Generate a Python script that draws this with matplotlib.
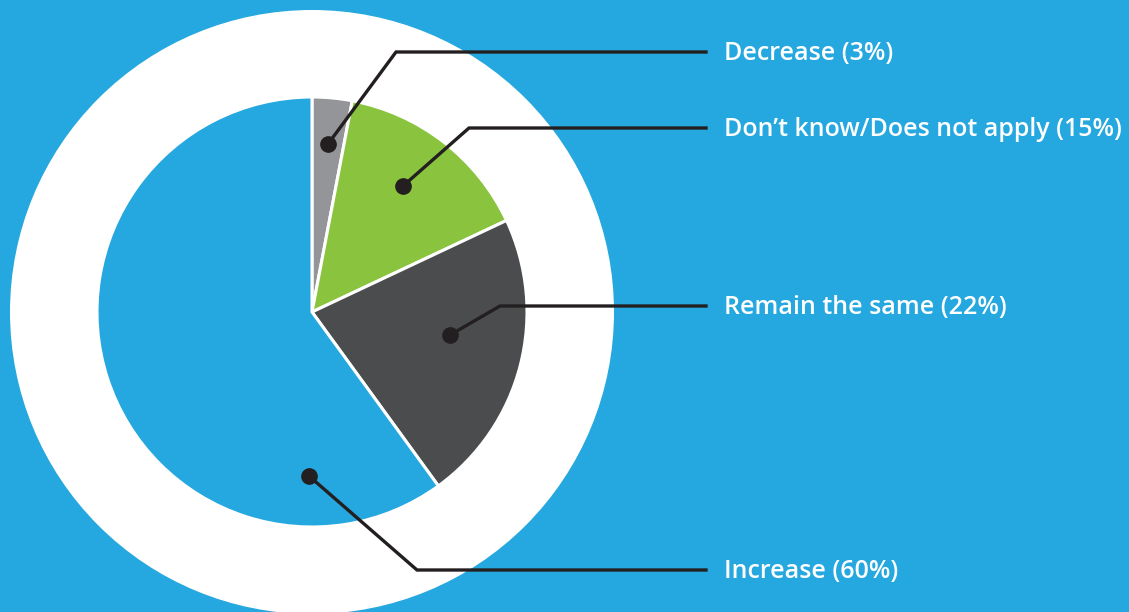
import matplotlib
matplotlib.use("Agg")
import matplotlib.pyplot as plt
from matplotlib.patches import Circle

categories = ["Decrease", "Don\u2019t know/Does not apply", "Remain the same", "Increase"]
values = [3, 15, 22, 60]
labels = [f"{c} ({v}%)" for c, v in zip(categories, values)]

BG = "#25A7DF"
colors = ["#939598", "#8AC43F", "#4B4C4E", BG]
LINE = "#231F20"

W, H = 1129, 612
fig = plt.figure(figsize=(W / 100, H / 100), dpi=100)
fig.patch.set_facecolor(BG)
ax = fig.add_axes([0, 0, 1, 1])
ax.set_xlim(0, W)
ax.set_ylim(0, H)
ax.set_aspect("equal")
ax.axis("off")

cx, cy = 312, H - 312
ax.add_patch(Circle((cx, cy), 302, facecolor="white", edgecolor="none", zorder=1))

wedges, _ = ax.pie(values, colors=colors, startangle=90, counterclock=False,
                   radius=215, center=(cx, cy),
                   wedgeprops=dict(edgecolor="white", linewidth=2.2))
for w in wedges:
    w.set_zorder(2)
ax.set_xlim(0, W)
ax.set_ylim(0, H)

# annotation layout (pixel coords, y from top): dot, elbow, text y
dots = [(328, 144), (403, 186), (450, 335), (309, 476)]
elbows = [(396, 52), (469, 128), (500, 306), (417, 570)]
line_end = 706
text_x = 724

for lab, (dx, dy), (ex, ey) in zip(labels, dots, elbows):
    ax.plot([dx, ex, line_end], [H - dy, H - ey, H - ey], color=LINE, lw=2.4,
            solid_joinstyle="miter", zorder=5)
    ax.plot([dx], [H - dy], "o", color=LINE, ms=11, zorder=6)
    ax.text(text_x, H - ey - 2, lab, color="white", fontsize=18, fontweight="semibold",
            family="Open Sans", va="center", ha="left", zorder=6)

fig.savefig("out.png", dpi=100, facecolor=BG)
